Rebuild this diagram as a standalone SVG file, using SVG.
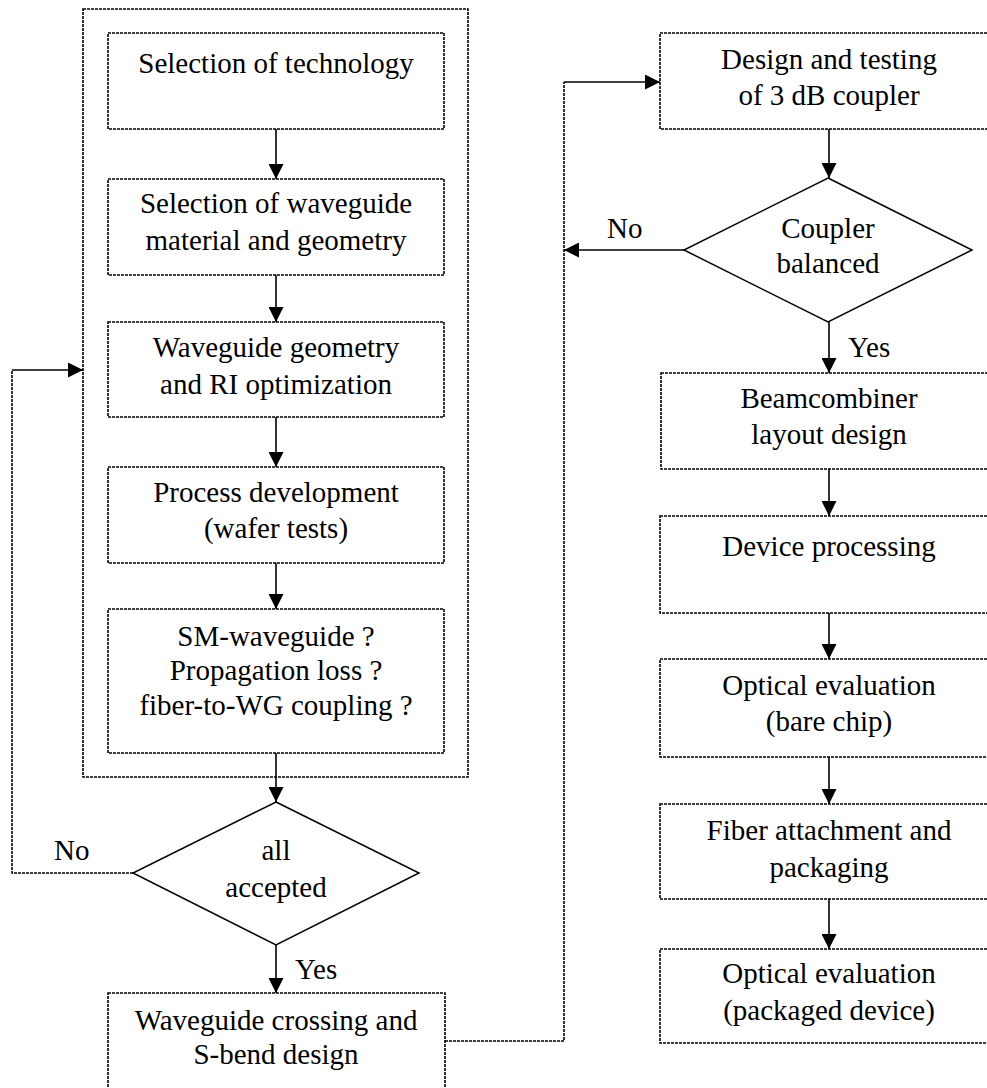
<svg xmlns="http://www.w3.org/2000/svg" width="987" height="1088" viewBox="0 0 987 1088">
  <style>
    .box { fill: #fff; stroke: #000; stroke-width: 1.6; stroke-dasharray: 3 1; }
    .frame { fill: none; stroke: #000; stroke-width: 1.6; stroke-dasharray: 3 1; }
    .dia { fill: #fff; stroke: #000; stroke-width: 1.5; }
    .flow { fill: none; stroke: #000; stroke-width: 1.6; }
    .dot { fill: none; stroke: #000; stroke-width: 1.6; stroke-dasharray: 3 1; }
    .t { font-family: "Liberation Serif", "DejaVu Serif", serif; font-size: 29px; fill: #000; text-anchor: middle; }
    .lbl { text-anchor: start; }
  </style>
  <defs>
    <marker id="head" viewBox="0 0 15 15" refX="15" refY="7.5" markerWidth="15" markerHeight="15" markerUnits="userSpaceOnUse" orient="auto">
      <path d="M0,0 L15,7.5 L0,15 Z" fill="#000"/>
    </marker>
  </defs>
  <rect width="987" height="1088" fill="#fff"/>

  <!-- surrounding frame of the waveguide development loop -->
  <rect id="frame" class="frame" x="83" y="9" width="385" height="768"/>

  <!-- connectors -->
  <g id="connectors">
    <line class="flow" x1="276" y1="129" x2="276" y2="179" marker-end="url(#head)"/>
    <line class="flow" x1="276" y1="275" x2="276" y2="322" marker-end="url(#head)"/>
    <line class="flow" x1="276" y1="417" x2="276" y2="467" marker-end="url(#head)"/>
    <line class="flow" x1="276" y1="563" x2="276" y2="609" marker-end="url(#head)"/>
    <line class="flow" x1="276" y1="753" x2="276" y2="802" marker-end="url(#head)"/>
    <line class="flow" x1="276" y1="945" x2="276" y2="993" marker-end="url(#head)"/>
    <!-- "No" feedback to the frame -->
    <polyline class="dot" points="133,873 12,873 12,370"/>
    <line class="flow" x1="12" y1="370" x2="83" y2="370" marker-end="url(#head)"/>
    <!-- hand-over to the right column -->
    <polyline class="dot" points="445,1041 564,1041 564,82"/>
    <line class="flow" x1="564" y1="82" x2="660" y2="82" marker-end="url(#head)"/>
    <line class="flow" x1="829" y1="129" x2="829" y2="178" marker-end="url(#head)"/>
    <line class="flow" x1="684" y1="250" x2="564" y2="250" marker-end="url(#head)"/>
    <line class="flow" x1="829" y1="322" x2="829" y2="373" marker-end="url(#head)"/>
    <line class="flow" x1="829" y1="469" x2="829" y2="516" marker-end="url(#head)"/>
    <line class="flow" x1="829" y1="613" x2="829" y2="659" marker-end="url(#head)"/>
    <line class="flow" x1="829" y1="757" x2="829" y2="804" marker-end="url(#head)"/>
    <line class="flow" x1="829" y1="899" x2="829" y2="949" marker-end="url(#head)"/>
  </g>

  <!-- left column -->
  <g id="n-technology">
    <rect class="box" x="108" y="33" width="336" height="96"/>
    <text class="t" x="276" y="73">Selection of technology</text>
  </g>
  <g id="n-material">
    <rect class="box" x="108" y="179" width="336" height="96"/>
    <text class="t" x="276" y="213">Selection of waveguide</text>
    <text class="t" x="276" y="250">material and geometry</text>
  </g>
  <g id="n-geometry">
    <rect class="box" x="108" y="322" width="336" height="95"/>
    <text class="t" x="276" y="357">Waveguide geometry</text>
    <text class="t" x="276" y="394">and RI optimization</text>
  </g>
  <g id="n-process">
    <rect class="box" x="108" y="467" width="336" height="96"/>
    <text class="t" x="276" y="502">Process development</text>
    <text class="t" x="276" y="538">(wafer tests)</text>
  </g>
  <g id="n-checks">
    <rect class="box" x="108" y="609" width="336" height="144"/>
    <text class="t" x="276" y="646">SM-waveguide ?</text>
    <text class="t" x="276" y="680">Propagation loss ?</text>
    <text class="t" x="276" y="715">fiber-to-WG coupling ?</text>
  </g>
  <g id="d-accepted">
    <polygon class="dia" points="276,802 419,873 276,945 133,873"/>
    <text class="t" x="276" y="860">all</text>
    <text class="t" x="276" y="897">accepted</text>
    <text class="t lbl" x="54" y="860">No</text>
    <text class="t lbl" x="295" y="979">Yes</text>
  </g>
  <g id="n-crossing">
    <rect class="box" x="108" y="993" width="337" height="110"/>
    <text class="t" x="276" y="1030">Waveguide crossing and</text>
    <text class="t" x="276" y="1064">S-bend design</text>
  </g>

  <!-- right column -->
  <g id="n-coupler">
    <rect class="box" x="660" y="33" width="338" height="96"/>
    <text class="t" x="829" y="69">Design and testing</text>
    <text class="t" x="829" y="105">of 3 dB coupler</text>
  </g>
  <g id="d-balanced">
    <polygon class="dia" points="828,178 972,250 828,322 684,250"/>
    <text class="t" x="828" y="238">Coupler</text>
    <text class="t" x="828" y="273">balanced</text>
    <text class="t lbl" x="607" y="238">No</text>
    <text class="t lbl" x="848" y="357">Yes</text>
  </g>
  <g id="n-layout">
    <rect class="box" x="661" y="373" width="337" height="96"/>
    <text class="t" x="829" y="408">Beamcombiner</text>
    <text class="t" x="829" y="444">layout design</text>
  </g>
  <g id="n-device">
    <rect class="box" x="660" y="516" width="338" height="97"/>
    <text class="t" x="829" y="556">Device processing</text>
  </g>
  <g id="n-bare">
    <rect class="box" x="660" y="659" width="338" height="98"/>
    <text class="t" x="829" y="695">Optical evaluation</text>
    <text class="t" x="829" y="731">(bare chip)</text>
  </g>
  <g id="n-fiber">
    <rect class="box" x="660" y="804" width="338" height="95"/>
    <text class="t" x="829" y="840">Fiber attachment and</text>
    <text class="t" x="829" y="877">packaging</text>
  </g>
  <g id="n-packaged">
    <rect class="box" x="660" y="949" width="338" height="94"/>
    <text class="t" x="829" y="983">Optical evaluation</text>
    <text class="t" x="829" y="1020">(packaged device)</text>
  </g>
</svg>
